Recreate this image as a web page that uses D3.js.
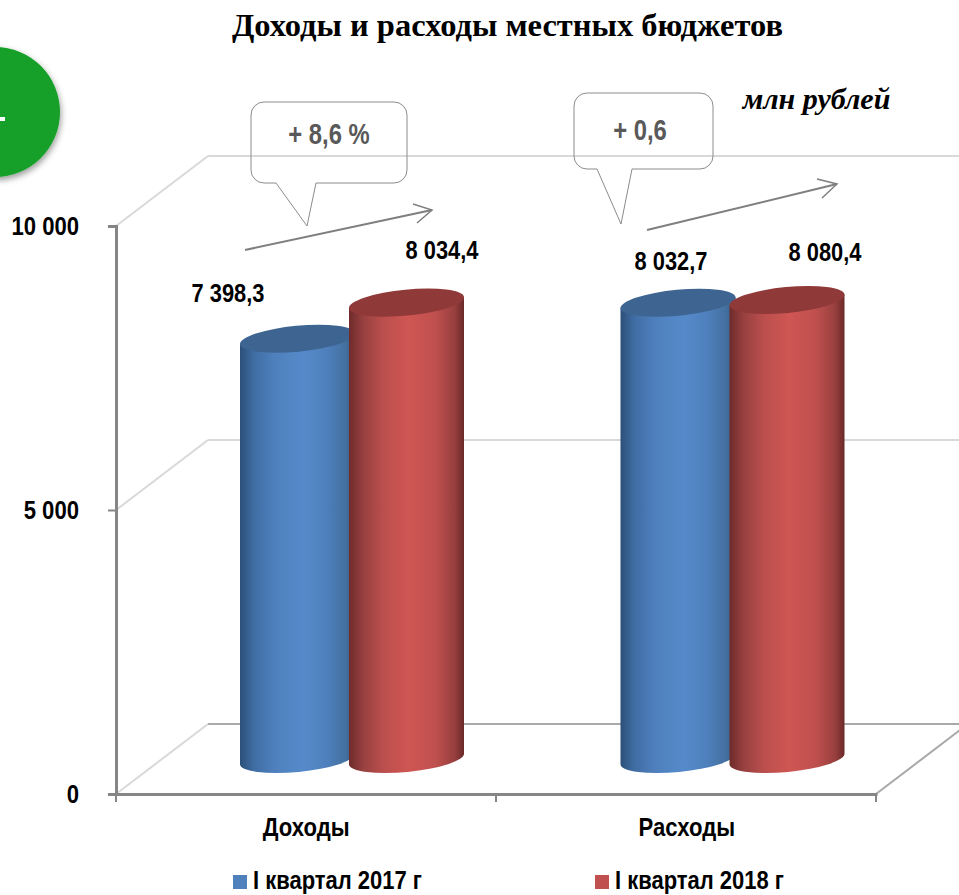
<!DOCTYPE html>
<html>
<head>
<meta charset="utf-8">
<script src="https://cdn.jsdelivr.net/npm/d3@7"></script>
<style>
  html, body { margin: 0; padding: 0; background: #fff; }
  svg { display: block; }
  text { font-family: "Liberation Sans", Arial, sans-serif; font-weight: bold; }
</style>
</head>
<body>
<div id="chart-area"></div>
<script>
// chart data
var categories = ["Доходы", "Расходы"];
var series = ["I квартал 2017 г", "I квартал 2018 г"];
var values2017 = [7398.3, 8032.7];
var values2018 = [8034.4, 8080.4];
var valueLabels2017 = ["7 398,3", "8 032,7"];
var valueLabels2018 = ["8 034,4", "8 080,4"];
var yTicks = [0, 5000, 10000];
var yTickLabels = ["0", "5 000", "10 000"];
var changes = ["+ 8,6 %", "+ 0,6"];

var width = 959, height = 895;

var svg = d3.select("#chart-area")
  .append("svg")
    .attr("width", width)
    .attr("height", height);

var defs = svg.append("defs");

function gradient(id, stops) {
  var g = defs.append("linearGradient").attr("id", id)
    .attr("x1", "0%").attr("x2", "100%").attr("y1", "0%").attr("y2", "0%");
  stops.forEach(function(s) {
    g.append("stop").attr("offset", s[0]).attr("stop-color", s[1]);
  });
}
gradient("blueBody", [[0, "#2c4f78"], [0.12, "#3f6da3"], [0.3, "#4f80bd"], [0.55, "#558aca"], [0.75, "#4f80bd"], [0.92, "#43709f"], [1, "#36597f"]]);
gradient("redBody", [[0, "#6e2b2a"], [0.12, "#974040"], [0.3, "#bb4f4d"], [0.52, "#cf5653"], [0.75, "#bf504e"], [0.92, "#973f3e"], [1, "#6a2928"]]);

var shadow = defs.append("filter").attr("id", "discShadow")
  .attr("x", "-20%").attr("y", "-20%").attr("width", "150%").attr("height", "150%");
shadow.append("feDropShadow").attr("dx", 1).attr("dy", 3).attr("stdDeviation", 3)
  .attr("flood-color", "#000").attr("flood-opacity", 0.4);

// the original font is a narrow one, squeeze the glyphs to get it
function narrow(sel, k) {
  sel.each(function() {
    this.setAttribute("textLength", this.getComputedTextLength() * k);
    this.setAttribute("lengthAdjust", "spacingAndGlyphs");
  });
}

// scales
var y = d3.scaleLinear().domain([0, 10000]).range([794, 226]);
var x0 = d3.scaleBand().domain(categories).range([116, 877]);
var x1 = d3.scaleBand().domain(series).range([124, 342]);

// depth of the 3d box
var depth = {dx: 92, dy: -70};

// green disc cut by the left edge
svg.append("circle")
  .attr("cx", -5).attr("cy", 112).attr("r", 65)
  .attr("fill", "#17a029")
  .attr("filter", "url(#discShadow)");
svg.append("line")
  .attr("x1", 0).attr("x2", 5).attr("y1", 119).attr("y2", 119)
  .attr("stroke", "#fff").attr("stroke-width", 4);

// back wall gridlines
var grid = svg.append("g");
yTicks.forEach(function(t) {
  var c = t === 0 ? "#a9a9a9" : "#d9d9d9";
  grid.append("line")
    .attr("x1", 116).attr("y1", y(t))
    .attr("x2", 116 + depth.dx).attr("y2", y(t) + depth.dy)
    .attr("stroke", "#d9d9d9").attr("stroke-width", 2);
  grid.append("line")
    .attr("x1", 116 + depth.dx).attr("y1", y(t) + depth.dy)
    .attr("x2", 876 + depth.dx).attr("y2", y(t) + depth.dy)
    .attr("stroke", c).attr("stroke-width", 2);
});
grid.append("line")
  .attr("x1", 876).attr("y1", y(0))
  .attr("x2", 876 + depth.dx).attr("y2", y(0) + depth.dy)
  .attr("stroke", "#a9a9a9").attr("stroke-width", 2);

// axes
var yAxis = svg.append("g")
  .attr("transform", "translate(116,0)")
  .call(d3.axisLeft(y)
    .tickValues(yTicks)
    .tickSize(8)
    .tickPadding(29)
    .tickFormat(function(d, i) { return yTickLabels[i]; }));

var xAxis = svg.append("g")
  .attr("transform", "translate(0,794)")
  .call(d3.axisBottom(x0).tickSize(0).tickPadding(24));

// ticks sit on the band edges
xAxis.selectAll("line.edge")
  .data([116, 496, 876])
  .enter().append("line")
    .attr("class", "edge")
    .attr("x1", function(d) { return d; })
    .attr("x2", function(d) { return d; })
    .attr("y1", 0).attr("y2", 8);

[yAxis, xAxis].forEach(function(a) {
  a.select(".domain").attr("stroke", "#868686").attr("stroke-width", 3);
  a.selectAll("line").attr("stroke", "#868686").attr("stroke-width", 2);
  a.selectAll("text")
    .attr("font-family", null)
    .attr("font-size", null)
    .style("font-size", "26px")
    .style("fill", "#000")
    .call(narrow, 0.85);
});

// cylinders
var tilt = -5.5;
var tan = Math.tan(tilt * Math.PI / 180);
var ry = 13;
var over = 6;
var rows = [
  {name: series[0], values: values2017, body: "url(#blueBody)", top: "#3e6591"},
  {name: series[1], values: values2018, body: "url(#redBody)", top: "#8f3938"}
];

rows.forEach(function(row) {
  var bars = svg.append("g").selectAll("g")
    .data(row.values)
    .enter().append("g");

  function geom(d, i) {
    var w = x1.bandwidth() + over;
    var left = x0(categories[i]) + x1(row.name);
    return {
      left: left, right: left + w, cx: left + w / 2, w: w,
      a: (w / 2) / Math.cos(tilt * Math.PI / 180),
      rise: (w / 2) * tan,
      top: y(d) + depth.dy / 2,
      base: y(0) + depth.dy / 2
    };
  }

  bars.append("path")
    .attr("fill", row.body)
    .attr("d", function(d, i) {
      var g = geom(d, i);
      return "M" + g.left + "," + (g.top - g.rise) +
        "L" + g.left + "," + (g.base - g.rise) +
        "A" + g.a + "," + ry + " " + tilt + " 0 0 " + g.right + "," + (g.base + g.rise) +
        "L" + g.right + "," + (g.top + g.rise) + "Z";
    });

  bars.append("ellipse")
    .attr("fill", row.top)
    .attr("rx", function(d, i) { return geom(d, i).a; })
    .attr("ry", ry)
    .attr("transform", function(d, i) {
      var g = geom(d, i);
      return "translate(" + g.cx + "," + g.top + ") rotate(" + tilt + ")";
    });
});

// value labels were placed by hand on the slide
var labelSpots = [[228, 293], [671, 261], [442, 250], [825, 252]];
valueLabels2017.concat(valueLabels2018).forEach(function(t, i) {
  svg.append("text")
    .attr("x", labelSpots[i][0]).attr("y", labelSpots[i][1])
    .attr("dy", "0.35em")
    .attr("text-anchor", "middle")
    .attr("font-size", 26)
    .attr("fill", "#000")
    .text(t)
    .call(narrow, 0.84);
});

// callouts
var callouts = [
  {box: [251, 102, 156, 81], tail: [[276, 183], [307, 226], [316, 183]]},
  {box: [574, 93, 139, 76], tail: [[597, 169], [621, 224], [632, 169]]}
];
callouts.forEach(function(c, i) {
  var bx = c.box[0], by = c.box[1], bw = c.box[2], bh = c.box[3], r = 13;
  var p = d3.path();
  p.moveTo(bx + r, by);
  p.lineTo(bx + bw - r, by);
  p.arcTo(bx + bw, by, bx + bw, by + r, r);
  p.lineTo(bx + bw, by + bh - r);
  p.arcTo(bx + bw, by + bh, bx + bw - r, by + bh, r);
  p.lineTo(c.tail[2][0], c.tail[2][1]);
  p.lineTo(c.tail[1][0], c.tail[1][1]);
  p.lineTo(c.tail[0][0], c.tail[0][1]);
  p.lineTo(bx + r, by + bh);
  p.arcTo(bx, by + bh, bx, by + bh - r, r);
  p.lineTo(bx, by + r);
  p.arcTo(bx, by, bx + r, by, r);
  p.closePath();
  svg.append("path").attr("d", p.toString())
    .attr("fill", "none").attr("stroke", "#8c8c8c").attr("stroke-width", 1);
  svg.append("text")
    .attr("x", bx + bw / 2 + (i === 0 ? 0 : -3.5))
    .attr("y", by + (i === 0 ? 32 : 37))
    .attr("dy", "0.35em")
    .attr("text-anchor", "middle")
    .attr("font-size", 29)
    .attr("fill", "#595959")
    .text(changes[i])
    .call(narrow, 0.82);
});

// trend arrows
var arrows = [
  {line: [[245, 250], [432, 210]], head: [[413, 204], [432, 210], [417, 223]]},
  {line: [[647, 230], [837, 184]], head: [[817, 179], [837, 184], [822, 198]]}
];
var lineGen = d3.line();
arrows.forEach(function(a) {
  svg.append("path").attr("d", lineGen(a.line))
    .attr("fill", "none").attr("stroke", "#7f7f7f").attr("stroke-width", 2);
  svg.append("path").attr("d", lineGen(a.head))
    .attr("fill", "none").attr("stroke", "#7f7f7f").attr("stroke-width", 1.5);
});

// title and unit
svg.append("text")
  .attr("x", 507.5).attr("y", 36)
  .attr("text-anchor", "middle")
  .attr("font-size", 32.5)
  .style("font-family", "'Liberation Serif', serif")
  .text("Доходы и расходы местных бюджетов");

svg.append("text")
  .attr("x", 816.5).attr("y", 109)
  .attr("text-anchor", "middle")
  .attr("font-size", 30)
  .attr("font-style", "italic")
  .style("font-family", "'Liberation Serif', serif")
  .text("млн рублей");

// legend
var legendX = [233, 595];
var legendColors = ["#4f81bd", "#c0504d"];
series.forEach(function(s, i) {
  svg.append("rect")
    .attr("x", legendX[i]).attr("y", 875)
    .attr("width", 14).attr("height", 14)
    .attr("fill", legendColors[i]);
  svg.append("text")
    .attr("x", legendX[i] + 20).attr("y", 889)
    .attr("font-size", 26)
    .attr("fill", "#000")
    .text(s)
    .call(narrow, 0.845);
});
</script>
</body>
</html>
